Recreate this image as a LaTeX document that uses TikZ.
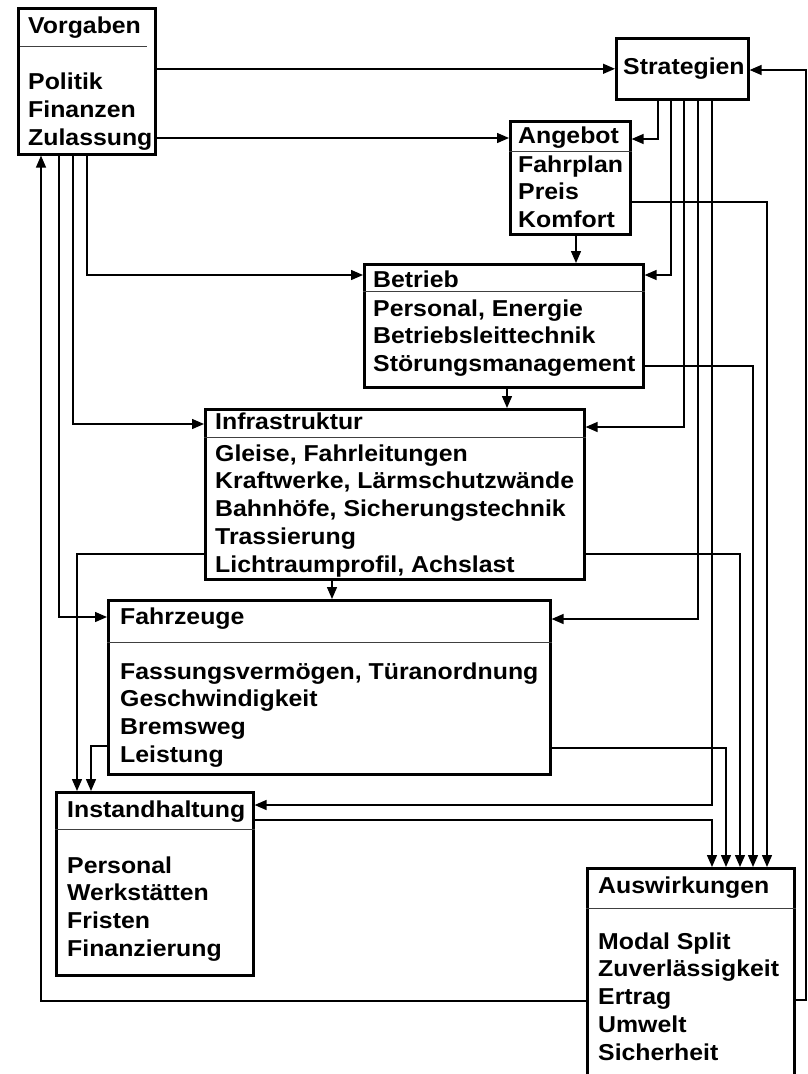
\documentclass[tikz,border=0pt]{standalone}
\usepackage{fontspec}
\setmainfont{Liberation Sans}[FakeStretch=1.08]
\usetikzlibrary{arrows.meta,calc,positioning}

\begin{document}
\begin{tikzpicture}[x=1pt,y=-1pt,
  box/.style={draw,line width=2.6pt,anchor=north west,inner sep=0pt},
  txt/.style={anchor=base west,inner sep=0pt,font=\bfseries\fontsize{23}{28}\selectfont},
  link/.style={line width=1.4pt},
  arr/.style={link,-{Triangle[length=12pt,width=10pt]}},
  sep/.style={line width=0.9pt,black!75}]
  \def\dy{27.8}
  \useasboundingbox (0,0) rectangle (808,1074);
  % Kaesten
  \node[box,minimum width=137pt,minimum height=146pt] (vorg) at (17,7) {};
  \node[box,minimum width=132pt,minimum height=61pt] (strat) at (615,37) {};
  \node[box,minimum width=120pt,minimum height=113pt] (ang) at (509,120) {};
  \node[box,minimum width=279pt,minimum height=123pt] (betr) at (363,263) {};
  \node[box,minimum width=379pt,minimum height=170pt] (infra) at (204,408) {};
  \node[box,minimum width=442pt,minimum height=174pt] (fahr) at (107,599) {};
  \node[box,minimum width=197pt,minimum height=183pt] (inst) at (55,791) {};
  \node[box,minimum width=207pt,minimum height=210pt] (ausw) at (586,867) {};
  % Titel
  \node[txt] (vorgT) at (28,33) {Vorgaben};
  \node[txt] (stratT) at (623,74) {Strategien};
  \node[txt] (angT) at (518,143) {Angebot};
  \node[txt] (betrT) at (373,287) {Betrieb};
  \node[txt] (infraT) at (215,429) {Infrastruktur};
  \node[txt] (fahrT) at (120,624) {Fahrzeuge};
  \node[txt] (instT) at (67,817) {Instandhaltung};
  \node[txt] (auswT) at (598,893) {Auswirkungen};
  % Trennlinien
  \draw[sep] (20,46) -- (147,46);
  \draw[sep] (ang.west |- 0,151) -- (ang.east |- 0,151);
  \draw[sep] (betr.west |- 0,291) -- (betr.east |- 0,291);
  \draw[sep] (infra.west |- 0,437) -- (infra.east |- 0,437);
  \draw[sep] (fahr.west |- 0,642) -- (fahr.east |- 0,642);
  \draw[sep] (inst.west |- 0,829) -- (inst.east |- 0,829);
  \draw[sep] (ausw.west |- 0,908) -- (ausw.east |- 0,908);
  % Inhalte
  \foreach \t [count=\i] in {Politik,Finanzen,Zulassung}
    \node[txt] (vorg\i) at (28,{89+28*(\i-1)}) {\t};
  \foreach \t [count=\i] in {Fahrplan,Preis,Komfort}
    \node[txt] (ang\i) at (518,{172+27.5*(\i-1)}) {\t};
  \foreach \t [count=\i] in {{Personal, Energie},Betriebsleittechnik,St\"orungsmanagement}
    \node[txt] (betr\i) at (373,{316+27.5*(\i-1)}) {\t};
  \foreach \t [count=\i] in {{Gleise, Fahrleitungen},{Kraftwerke, L\"armschutzw\"ande},{Bahnh\"ofe, Sicherungstechnik},Trassierung,{Lichtraumprofil, Achslast}}
    \node[txt] (infra\i) at (215,{461+\dy*(\i-1)}) {\t};
  \foreach \t [count=\i] in {{Fassungsverm\"ogen, T\"uranordnung},Geschwindigkeit,Bremsweg,Leistung}
    \node[txt] (fahr\i) at (120,{679+\dy*(\i-1)}) {\t};
  \foreach \t [count=\i] in {Personal,Werkst\"atten,Fristen,Finanzierung}
    \node[txt] (inst\i) at (67,{873+\dy*(\i-1)}) {\t};
  \foreach \t [count=\i] in {Modal Split,Zuverl\"assigkeit,Ertrag,Umwelt,Sicherheit}
    \node[txt] (ausw\i) at (598,{949+\dy*(\i-1)}) {\t};
  % Vorgaben
  \draw[arr] (vorg.east |- strat.west) -- (strat.west);
  \draw[arr] (vorg.east |- 0,138) -- (ang.west |- 0,138);
  \draw[arr] (vorg.south -| 87,0) |- (betr.west |- 0,275);
  \draw[arr] (vorg.south -| 73,0) |- (infra.west |- 0,424);
  \draw[arr] (vorg.south -| 59,0) |- (fahr.west |- 0,617);
  % Strategien
  \draw[arr] (strat.south -| 658,0) |- (ang.east |- 0,139);
  \draw[arr] (strat.south -| 671,0) |- (betr.east |- 0,275);
  \draw[arr] (strat.south -| 684,0) |- (infra.east |- 0,427);
  \draw[arr] (strat.south -| 698,0) |- (fahr.east |- 0,619);
  \draw[arr] (strat.south -| 712,0) |- (inst.east |- 0,805);
  % Kette nach unten
  \draw[arr] (ang.south -| 576,0) -- (betr.north -| 576,0);
  \draw[arr] (betr.south -| 507,0) -- (infra.north -| 507,0);
  \draw[arr] (infra.south -| 332,0) -- (fahr.north -| 332,0);
  \draw[arr] (infra.west |- 0,554) -| (inst.north -| 77,0);
  \draw[arr] (fahr.west |- 0,746) -| (inst.north -| 91,0);
  % Auswirkungen
  \draw[arr] (ang.east |- 0,202) -| (ausw.north -| 767,0);
  \draw[arr] (betr.east |- 0,366) -| (ausw.north -| 753,0);
  \draw[arr] (infra.east |- 0,554) -| (ausw.north -| 740,0);
  \draw[arr] (fahr.east |- 0,748) -| (ausw.north -| 726,0);
  \draw[arr] (inst.east |- 0,820) -| (ausw.north -| 712,0);
  \draw[arr] (ausw.west |- 0,1001) -| (vorg.south -| 41,0);
  \draw[arr] (ausw.east |- 0,1000) -| (806,70) -- (strat.east |- 0,70);
\end{tikzpicture}
\end{document}
